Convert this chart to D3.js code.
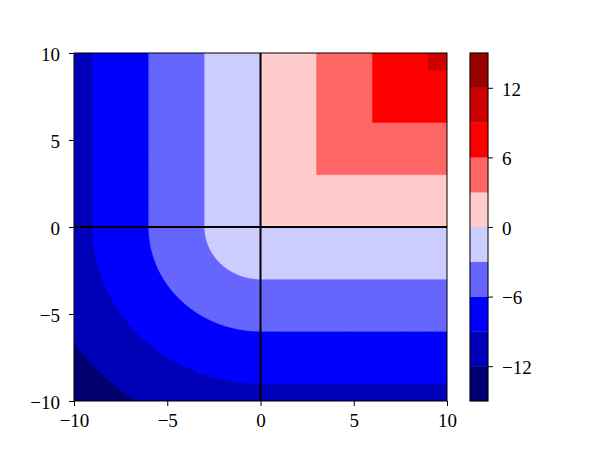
<!DOCTYPE html>
<html>
<head>
<meta charset="utf-8">
<script src="https://cdn.jsdelivr.net/npm/d3@7"></script>
<style>
  body { margin: 0; background: #fff; }
  text { font-family: "Liberation Serif", "DejaVu Serif", serif; font-size: 19px; fill: #000; }
</style>
</head>
<body>
<svg width="600" height="450"></svg>
<script>
// contour levels and band colours (seismic colormap, band midpoints)
const levels = [-15, -12, -9, -6, -3, 0, 3, 6, 9, 12, 15];
const bandColors = ["#000070", "#0000b8", "#0000ff", "#6666ff", "#ccccff",
                    "#ffcccc", "#ff6666", "#ff0000", "#cc0000", "#990000"];
const xTicks = [-10, -5, 0, 5, 10];
const yTicks = [-10, -5, 0, 5, 10];
const cbarTicks = [-12, -6, 0, 6, 12];

// field sampled on a grid over [-10, 10] x [-10, 10]
const step = 0.05;
const gridX = d3.range(-10, 10 + step / 2, step);
const gridY = d3.range(-10, 10 + step / 2, step);
function field(x, y) {
    if (x >= 0 && y >= 0) return Math.min(x, y);
    if (x < 0 && y >= 0) return x;
    if (x >= 0 && y < 0) return y;
    return -Math.sqrt(x * x + y * y);
}

const svg = d3.select("svg");
const mLeft = 74, mRight = 447, mTop = 53, mBottom = 401;

const x = d3.scaleLinear().domain([-10, 10]).range([mLeft, mRight]);
const y = d3.scaleLinear().domain([-10, 10]).range([mBottom, mTop]);

// Step 1: grid values (row-major, row j = gridY[j])
const nx = gridX.length, ny = gridY.length;
const values = new Array(nx * ny);
for (let j = 0; j < ny; j++) {
    for (let i = 0; i < nx; i++) {
        values[j * nx + i] = field(gridX[i], gridY[j]);
    }
}

// Step 2: filled contours
const contours = d3.contours().size([nx, ny]).thresholds(levels.slice(0, -1))(values);

// grid coordinates -> data -> pixels
const gx = d3.scaleLinear().domain([0.5, nx - 0.5]).range([x(-10), x(10)]);
const gy = d3.scaleLinear().domain([0.5, ny - 0.5]).range([y(-10), y(10)]);
const path = d3.geoPath(d3.geoTransform({
    point: function(px, py) { this.stream.point(gx(px), gy(py)); }
}));

svg.append("clipPath").attr("id", "clip")
    .append("rect")
    .attr("x", mLeft).attr("y", mTop)
    .attr("width", mRight - mLeft).attr("height", mBottom - mTop);

const plot = svg.append("g").attr("clip-path", "url(#clip)");

plot.selectAll("path.band")
    .data(contours)
    .enter()
    .append("path")
    .attr("class", "band")
    .attr("d", path)
    .attr("fill", (d, i) => bandColors[i])
    .attr("stroke", (d, i) => bandColors[i])
    .attr("stroke-width", 0.3);

// Step 3: black lines through the origin
plot.append("line")
    .attr("x1", x(-10)).attr("x2", x(10))
    .attr("y1", y(0)).attr("y2", y(0))
    .attr("stroke", "black").attr("stroke-width", 2);
plot.append("line")
    .attr("x1", x(0)).attr("x2", x(0))
    .attr("y1", y(-10)).attr("y2", y(10))
    .attr("stroke", "black").attr("stroke-width", 2);

// Step 4: axes
const fmt = d => d < 0 ? "\u2212" + Math.abs(d) : d;
const xAxis = svg.append("g")
    .attr("transform", `translate(0, ${mBottom})`)
    .call(d3.axisBottom(x).tickValues(xTicks).tickSize(5).tickPadding(8).tickFormat(fmt));
const yAxis = svg.append("g")
    .attr("transform", `translate(${mLeft}, 0)`)
    .call(d3.axisLeft(y).tickValues(yTicks).tickSize(5).tickPadding(9).tickFormat(fmt));

[xAxis, yAxis].forEach(a => {
    a.select(".domain").remove();
    a.selectAll("line").attr("stroke", "black").attr("stroke-width", 1);
    a.selectAll("text").style("font-size", "19px").style("font-family", null);
});
yAxis.selectAll("text").attr("dy", "0.38em");

svg.append("rect")
    .attr("x", mLeft).attr("y", mTop)
    .attr("width", mRight - mLeft).attr("height", mBottom - mTop)
    .attr("fill", "none").attr("stroke", "black").attr("stroke-width", 1);

// Step 5: colorbar
const cbLeft = 470, cbRight = 488;
const c = d3.scaleLinear().domain([-15, 15]).range([mBottom, mTop]);

svg.selectAll("rect.cb")
    .data(d3.pairs(levels))
    .enter()
    .append("rect")
    .attr("class", "cb")
    .attr("x", cbLeft)
    .attr("y", d => c(d[1]))
    .attr("width", cbRight - cbLeft)
    .attr("height", d => c(d[0]) - c(d[1]))
    .attr("fill", (d, i) => bandColors[i])
    .attr("stroke", (d, i) => bandColors[i])
    .attr("stroke-width", 0.3);

const cAxis = svg.append("g")
    .attr("transform", `translate(${cbRight}, 0)`)
    .call(d3.axisRight(c).tickValues(cbarTicks).tickSize(5).tickPadding(9).tickFormat(fmt));
cAxis.select(".domain").remove();
cAxis.selectAll("line").attr("stroke", "black").attr("stroke-width", 1);
cAxis.selectAll("text").style("font-size", "19px").attr("dy", "0.38em");

svg.append("rect")
    .attr("x", cbLeft).attr("y", mTop)
    .attr("width", cbRight - cbLeft).attr("height", mBottom - mTop)
    .attr("fill", "none").attr("stroke", "black").attr("stroke-width", 1);
</script>
</body>
</html>
